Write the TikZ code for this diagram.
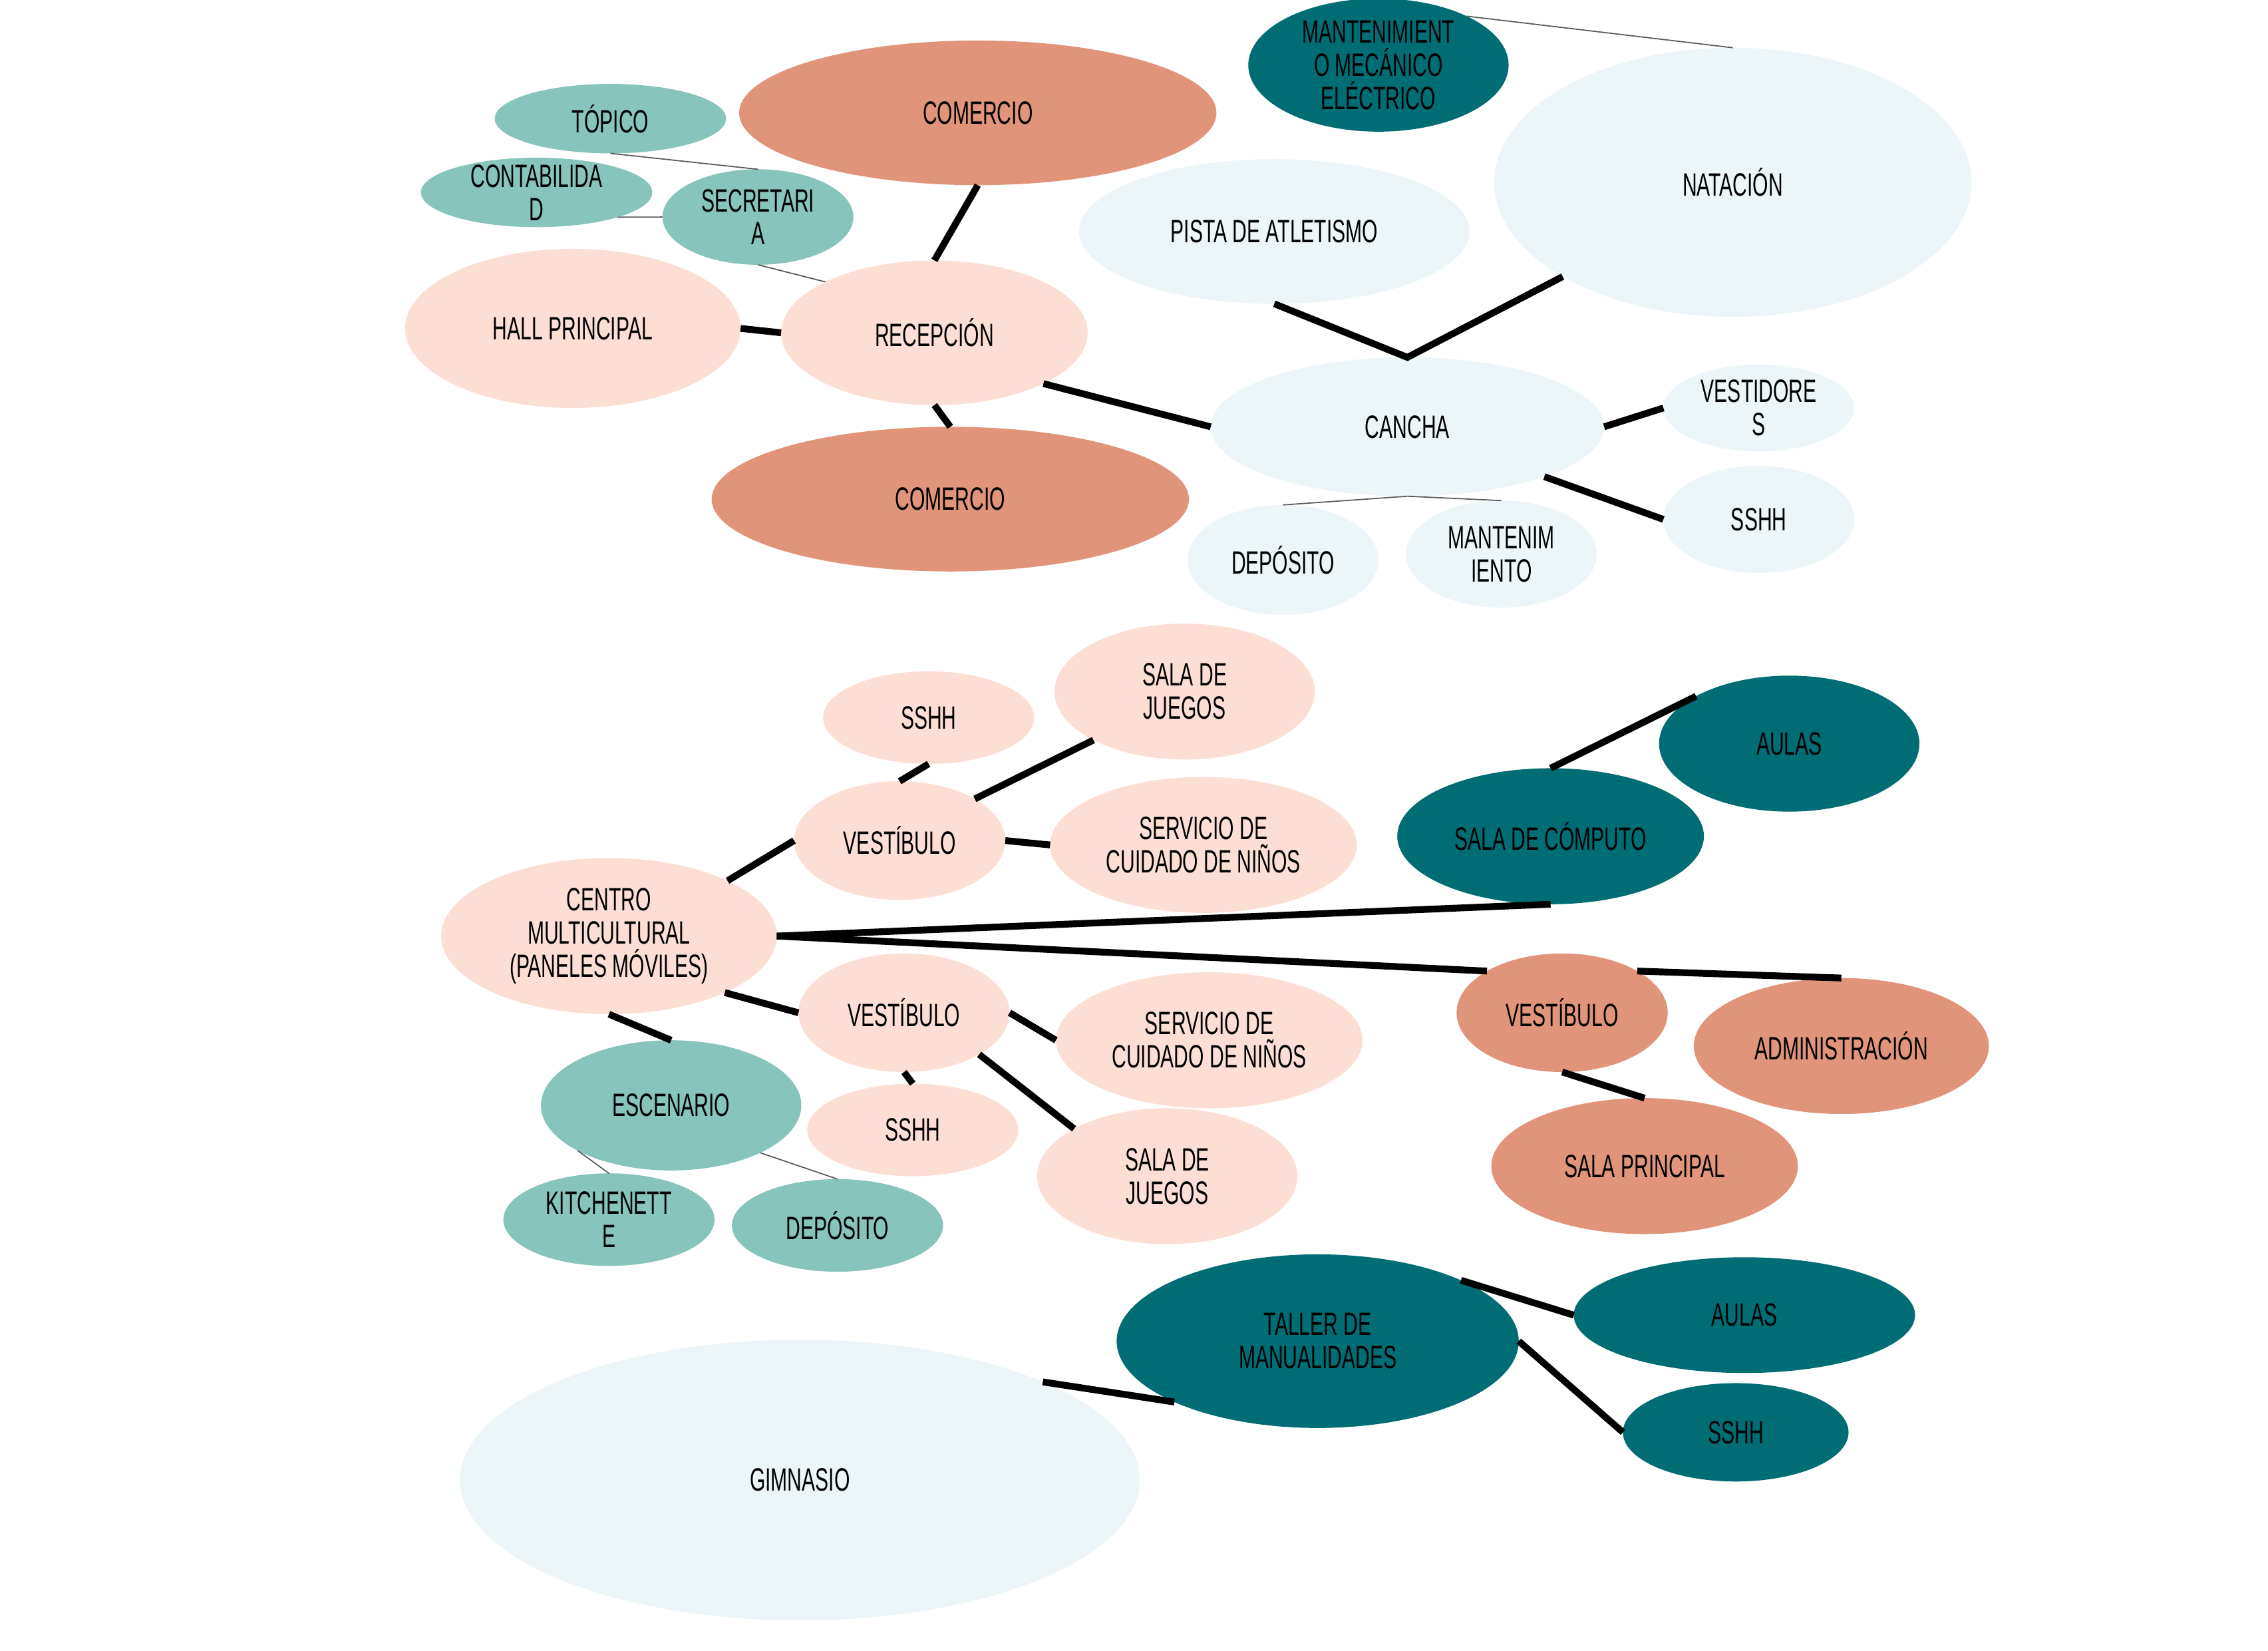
\documentclass[tikz,border=0pt]{standalone}
\usepackage{fontspec}
\setmainfont{Liberation Sans}[FakeStretch=0.62]
\usepackage{xcolor}
\usetikzlibrary{shapes.geometric}

\definecolor{cRosa}{HTML}{FDDED5}
\definecolor{cSalmon}{HTML}{E0957B}
\definecolor{cPetroleo}{HTML}{006C74}
\definecolor{cMenta}{HTML}{87C4BB}
\definecolor{cCeleste}{HTML}{ECF5F8}

\tikzset{
  ambiente/.style={ellipse, inner sep=0pt, outer sep=0pt, align=center,
                   font=\fontsize{13.8}{14.2}\selectfont},
  radios/.style 2 args={minimum width=#1*0.043482cm, minimum height=#2*0.043482cm},
  enlace/.style={line width=2.9pt},
  nexo/.style={line width=0.5pt, draw=black!65},
}

\begin{document}
\begin{tikzpicture}[x=0.021741cm, y=-0.021741cm]

    \useasboundingbox (0,0) rectangle (1568,1141);

    % =================================================================
    % 1. ZONA DEPORTIVA Y RECEPCION (parte superior)
    % =================================================================
    \node[ambiente, fill=cPetroleo, radios={90}{46}] (mant) at (953,45) {MANTENIMIENT\\O MECÁNICO\\ELÉCTRICO};
    \node[ambiente, fill=cCeleste, radios={165}{93}] (nat) at (1198,126) {NATACIÓN};
    \node[ambiente, fill=cMenta, radios={80}{24}] (top) at (422,82) {TÓPICO};
    \node[ambiente, fill=cSalmon, radios={165}{50}] (com1) at (676,78) {COMERCIO};
    \node[ambiente, fill=cMenta, radios={80}{24}, inner ysep=-3pt] (cont) at (371,133) {CONTABILIDA\\D};
    \node[ambiente, fill=cMenta, radios={66}{33}] (secr) at (524,150) {SECRETARI\\A};
    \node[ambiente, fill=cCeleste, radios={135}{50}] (pista) at (881,160) {PISTA DE ATLETISMO};
    \node[ambiente, fill=cRosa, radios={116}{55}] (hall) at (396,227) {HALL PRINCIPAL};
    \node[ambiente, fill=cRosa, radios={106}{50}] (rec) at (646,230) {RECEPCIÓN};
    \node[ambiente, fill=cCeleste, radios={136}{48}] (cancha) at (973,295) {CANCHA};
    \node[ambiente, fill=cSalmon, radios={165}{50}] (com2) at (657,345) {COMERCIO};
    \node[ambiente, fill=cCeleste, radios={66}{30}] (vestd) at (1216,282) {VESTIDORE\\S};
    \node[ambiente, fill=cCeleste, radios={66}{37}] (sshh1) at (1216,359) {SSHH};
    \node[ambiente, fill=cCeleste, radios={66}{38}] (dep1) at (887,387) {DEPÓSITO};
    \node[ambiente, fill=cCeleste, radios={66}{37}] (mant1) at (1038,383) {MANTENIM\\IENTO};

    % Conexiones
    \draw[enlace] (com1.south) -- (rec.north);
    \draw[enlace] (hall.east) -- (rec.west);
    \draw[enlace] (rec.south) -- (com2.north);
    \draw[enlace] (rec.-25) -- (cancha.west);
    \draw[enlace] (pista.south) -- (cancha.north) -- (nat.209);
    \draw[enlace] (cancha.east) -- (vestd.west);
    \draw[enlace] (cancha.-20) -- (sshh1.west);

    \draw[nexo] (mant.29) -- (nat.north);
    \draw[nexo] (top.south) -- (secr.north);
    \draw[nexo] (cont.-17) -- (secr.west);
    \draw[nexo] (secr.south) -- (rec.155);
    \draw[nexo] (cancha.south) -- (dep1.north);
    \draw[nexo] (cancha.south) -- (mant1.north);

    % =================================================================
    % 2. CENTRO MULTICULTURAL (parte central)
    % =================================================================
    \node[ambiente, fill=cRosa, radios={73}{32}] (sshh2) at (642,496) {SSHH};
    \node[ambiente, fill=cRosa, radios={90}{47}] (sj1) at (819,478) {SALA DE\\JUEGOS};
    \node[ambiente, fill=cRosa, radios={73}{41}] (vest1) at (622,581) {VESTÍBULO};
    \node[ambiente, fill=cRosa, radios={106}{47}] (scn1) at (832,584) {SERVICIO DE\\CUIDADO DE NIÑOS};
    \node[ambiente, fill=cRosa, radios={116}{54}] (centro) at (421,647) {CENTRO\\MULTICULTURAL\\(PANELES MÓVILES)};
    \node[ambiente, fill=cPetroleo, radios={90}{47}] (aulas1) at (1237,514) {AULAS};
    \node[ambiente, fill=cPetroleo, radios={106}{47}] (comp) at (1072,578) {SALA DE CÓMPUTO};
    \node[ambiente, fill=cRosa, radios={73}{41}] (vest2) at (625,700) {VESTÍBULO};
    \node[ambiente, fill=cRosa, radios={106}{47}] (scn2) at (836,719) {SERVICIO DE\\CUIDADO DE NIÑOS};
    \node[ambiente, fill=cRosa, radios={73}{32}] (sshh3) at (631,781) {SSHH};
    \node[ambiente, fill=cRosa, radios={90}{47}] (sj2) at (807,813) {SALA DE\\JUEGOS};
    \node[ambiente, fill=cMenta, radios={90}{45}] (esc) at (464,764) {ESCENARIO};
    \node[ambiente, fill=cMenta, radios={73}{32}] (kit) at (421,843) {KITCHENETT\\E};
    \node[ambiente, fill=cMenta, radios={73}{32}] (dep2) at (579,847) {DEPÓSITO};
    \node[ambiente, fill=cSalmon, radios={73}{41}] (vest3) at (1080,700) {VESTÍBULO};
    \node[ambiente, fill=cSalmon, radios={102}{47}] (adm) at (1273,723) {ADMINISTRACIÓN};
    \node[ambiente, fill=cSalmon, radios={106}{47}] (sp) at (1137,806) {SALA PRINCIPAL};

    % Conexiones
    \draw[enlace] (sshh2.south) -- (vest1.north);
    \draw[enlace] (sj1.208) -- (vest1.29);
    \draw[enlace] (vest1.east) -- (scn1.west);
    \draw[enlace] (centro.25) -- (vest1.west);
    \draw[enlace] (centro.east) -- (comp.south);
    \draw[enlace] (comp.north) -- (aulas1.153);
    \draw[enlace] (centro.east) -- (vest3.151);
    \draw[enlace] (vest3.29) -- (adm.north);
    \draw[enlace] (vest3.south) -- (sp.north);
    \draw[enlace] (centro.-26) -- (vest2.west);
    \draw[enlace] (centro.south) -- (esc.north);
    \draw[enlace] (vest2.east) -- (scn2.west);
    \draw[enlace] (vest2.south) -- (sshh3.north);
    \draw[enlace] (vest2.-29) -- (sj2.153);

    \draw[nexo] (esc.206) -- (kit.north);
    \draw[nexo] (esc.-28) -- (dep2.north);

    % =================================================================
    % 3. TALLER Y GIMNASIO (parte inferior)
    % =================================================================
    \node[ambiente, fill=cPetroleo, radios={139}{60}] (taller) at (911,927) {TALLER DE\\MANUALIDADES};
    \node[ambiente, fill=cPetroleo, radios={118}{40}] (aulas2) at (1206,909) {AULAS};
    \node[ambiente, fill=cPetroleo, radios={78}{34}] (sshh4) at (1200,990) {SSHH};
    \node[ambiente, fill=cCeleste, radios={235}{97}] (gym) at (553,1023) {GIMNASIO};

    \draw[enlace] (taller.23) -- (aulas2.west);
    \draw[enlace] (taller.east) -- (sshh4.west);
    \draw[enlace] (gym.22) -- (taller.203);

\end{tikzpicture}
\end{document}
